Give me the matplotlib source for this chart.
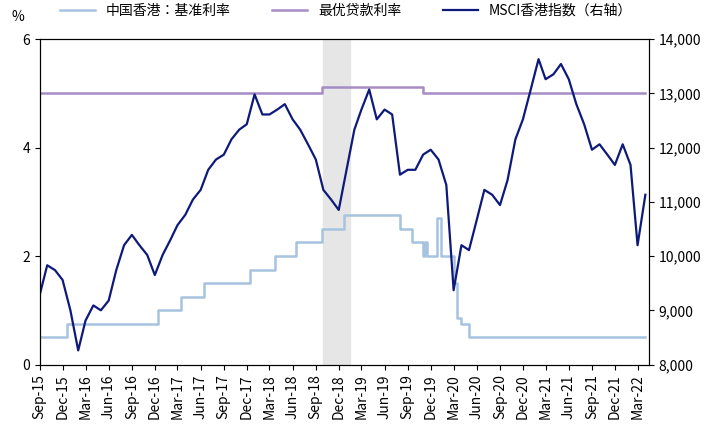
import matplotlib
matplotlib.use("Agg")
import matplotlib.pyplot as plt
import pandas as pd

plt.rcParams["font.family"] = ["Noto Sans CJK SC", "Noto Sans CJK JP", "Noto Sans CJK TC",
                               "Noto Sans CJK KR", "DejaVu Sans"]

months = pd.date_range("2015-09-01", "2022-04-01", freq="MS")
msci = [9280, 9830, 9740, 9560, 9000, 8260, 8810, 9090, 9000, 9180, 9740, 10200,
        10390, 10200, 10020, 9650, 10020, 10300, 10570, 10760, 11040, 11220, 11590, 11780,
        11870, 12150, 12330, 12430, 12980, 12610, 12610, 12700, 12800, 12520, 12330, 12060,
        11780, 11220, 11040, 10850, 11590, 12330, 12700, 13070, 12520, 12700, 12610, 11500,
        11590, 11590, 11870, 11960, 11780, 11310, 9370, 10200, 10110, 10670, 11220, 11130,
        10940, 11400, 12150, 12520, 13070, 13630, 13260, 13350, 13540, 13260, 12800, 12430,
        11960, 12060, 11870, 11680, 12060, 11680, 10200, 11130]

base_dates = pd.to_datetime(["2015-09-01", "2015-12-17", "2016-12-15", "2017-03-16", "2017-06-15",
                             "2017-12-14", "2018-03-22", "2018-06-14", "2018-09-27", "2018-12-20",
                             "2019-08-01", "2019-09-19", "2019-10-31", "2019-11-10", "2019-11-15",
                             "2019-12-15", "2019-12-25", "2020-01-10", "2020-03-04", "2020-03-16",
                             "2020-04-01", "2020-05-01", "2022-03-17", "2022-03-31"])
base_rate = [0.5, 0.75, 1.0, 1.25, 1.5, 1.75, 2.0, 2.25, 2.5, 2.75,
             2.5, 2.25, 2.0, 2.25, 2.0, 2.0, 2.7, 2.0, 1.5, 0.86,
             0.75, 0.5, 0.5, 0.5]

prime_dates = pd.to_datetime(["2015-09-01", "2018-09-27", "2019-10-31", "2022-03-31"])
prime_rate = [5.0, 5.125, 5.0, 5.0]

fig, ax = plt.subplots(figsize=(7.21, 4.34), dpi=100)
fig.subplots_adjust(left=0.055, right=0.9, top=0.91, bottom=0.16)
ax2 = ax.twinx()

ax.axvspan(pd.Timestamp("2018-10-01"), pd.Timestamp("2019-01-15"), color="#e6e6e6", zorder=0)
l1, = ax.step(base_dates, base_rate, where="post", color="#a6c3e0", lw=1.8, label="中国香港：基准利率")
l2, = ax.step(prime_dates, prime_rate, where="post", color="#a68cc4", lw=1.8, label="最优贷款利率")
l3, = ax2.plot(months, msci, color="#0d1a7a", lw=1.6, label="MSCI香港指数（右轴）")

ax.set_ylim(0, 6)
ax.set_yticks([0, 2, 4, 6])
ax2.set_ylim(8000, 14000)
ax2.set_yticks(range(8000, 14001, 1000))
ax2.set_yticklabels([f"{v:,}" for v in range(8000, 14001, 1000)])
ax.set_xlim(pd.Timestamp("2015-09-01"), pd.Timestamp("2022-04-15"))
ticks = pd.date_range("2015-09-01", "2022-03-01", freq="3MS")
ax.set_xticks(ticks)
ax.set_xticklabels([t.strftime("%b-%y") for t in ticks], rotation=90)
ax.text(-0.035, 1.045, "%", transform=ax.transAxes, ha="center", va="bottom", fontsize=10)
for a in (ax, ax2):
    a.tick_params(labelsize=10)
fig.legend(handles=[l1, l2, l3], loc="upper center", ncol=3, frameon=False,
           bbox_to_anchor=(0.48, 1.02), fontsize=10, handlelength=2.5, columnspacing=3)
fig.savefig("out.png")
